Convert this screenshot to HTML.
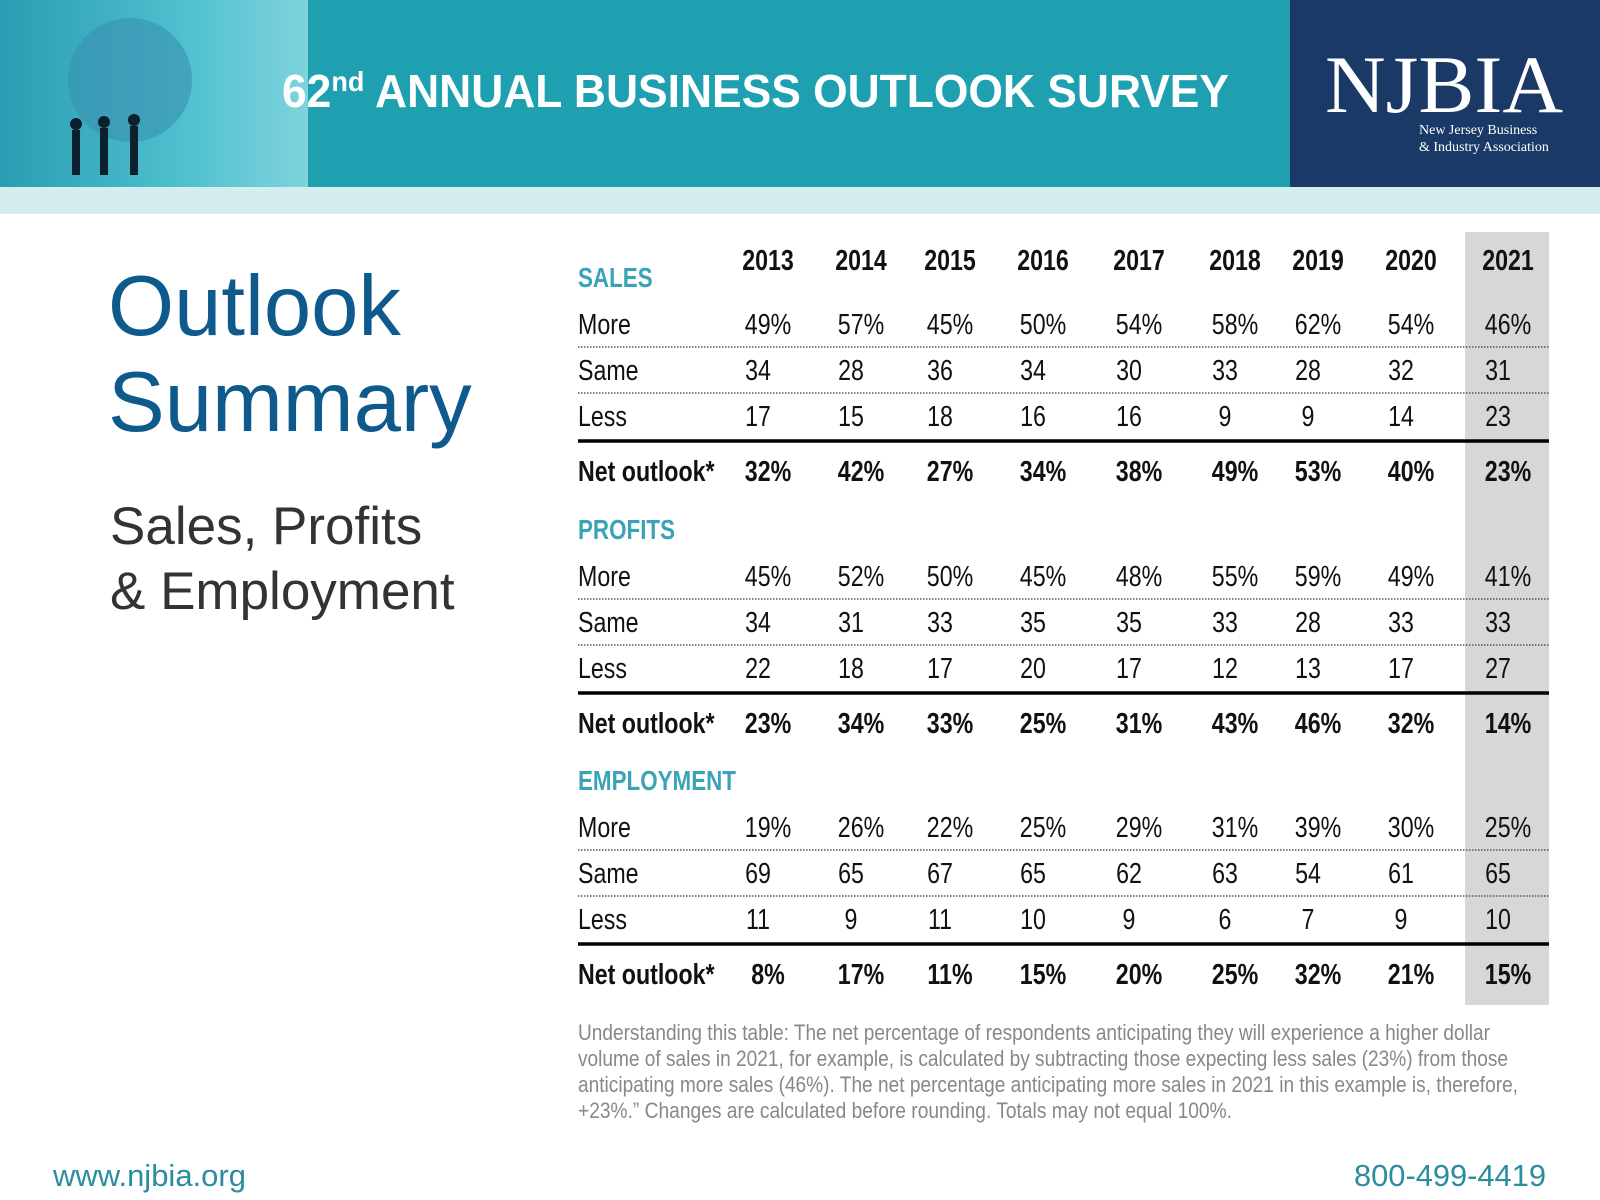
<!DOCTYPE html>
<html><head><meta charset="utf-8"><style>
html,body{margin:0;padding:0;background:#fff}
svg{display:block}
</style></head><body>
<svg id="s" width="1600" height="1200" viewBox="0 0 1600 1200" xmlns="http://www.w3.org/2000/svg" font-family="Liberation Sans, sans-serif">
<defs>
<linearGradient id="lg" x1="0" y1="0" x2="1" y2="0"><stop offset="0" stop-color="#2a9db2"/><stop offset="0.6" stop-color="#4fc0cf"/><stop offset="1" stop-color="#7fd3dd"/></linearGradient>
</defs>
<rect x="0" y="0" width="1290" height="187" fill="#1fa0b1"/>
<rect x="0" y="0" width="308" height="187" fill="url(#lg)"/>
<circle cx="130" cy="80" r="62" fill="#3a8fb0" opacity="0.6"/>
<g fill="#0d2030"><rect x="72" y="130" width="8" height="45"/><rect x="100" y="128" width="8" height="47"/><rect x="130" y="126" width="8" height="49"/><circle cx="76" cy="124" r="6"/><circle cx="104" cy="122" r="6"/><circle cx="134" cy="120" r="6"/></g>
<rect x="0" y="187" width="1600" height="27" fill="#d4eeee"/>
<rect x="1290" y="0" width="310" height="187" fill="#1b3967"/>
<text x="282" y="107" font-size="46" font-weight="bold" fill="#fff" textLength="947" lengthAdjust="spacingAndGlyphs">62<tspan font-size="28" dy="-16">nd</tspan><tspan dy="16"> ANNUAL BUSINESS OUTLOOK SURVEY</tspan></text>
<text x="1325" y="112" font-family="Liberation Serif, serif" font-size="82" fill="#fff" textLength="238" lengthAdjust="spacingAndGlyphs">NJBIA</text>
<text x="1419" y="134" font-family="Liberation Serif, serif" font-size="14" fill="#fff">New Jersey Business</text>
<text x="1419" y="151" font-family="Liberation Serif, serif" font-size="14" fill="#fff">&amp; Industry Association</text>

<text x="108" y="335" font-size="85" fill="#0e5a8c">Outlook</text>
<text x="108" y="431" font-size="85" fill="#0e5a8c">Summary</text>
<text x="110" y="544" font-size="53" fill="#333">Sales, Profits</text>
<text x="110" y="609" font-size="53" fill="#333">&amp; Employment</text>

<rect x="1465" y="232" width="84" height="773" fill="#d6d7d8"/>
<g id="tbl"></g>

<g fill="#888" font-size="22">
<text x="578" y="1040" textLength="912" lengthAdjust="spacingAndGlyphs">Understanding this table: The net percentage of respondents anticipating they will experience a higher dollar</text>
<text x="578" y="1066" textLength="930" lengthAdjust="spacingAndGlyphs">volume of sales in 2021, for example, is calculated by subtracting those expecting less sales (23%) from those</text>
<text x="578" y="1092" textLength="940" lengthAdjust="spacingAndGlyphs">anticipating more sales (46%). The net percentage anticipating more sales in 2021 in this example is, therefore,</text>
<text x="578" y="1118" textLength="654" lengthAdjust="spacingAndGlyphs">+23%.” Changes are calculated before rounding. Totals may not equal 100%.</text>
</g>
<text x="53" y="1186" font-size="31" fill="#2a8e9f">www.njbia.org</text>
<text x="1546" y="1186" font-size="31" fill="#2a8e9f" text-anchor="end" textLength="192" lengthAdjust="spacingAndGlyphs">800-499-4419</text>
</svg>
<script>
const years=["2013","2014","2015","2016","2017","2018","2019","2020","2021"];
const sections=["SALES","PROFITS","EMPLOYMENT"];
const rowLabels=["More","Same","Less","Net outlook*"];
const salesMore=[49,57,45,50,54,58,62,54,46];
const salesSame=[34,28,36,34,30,33,28,32,31];
const salesLess=[17,15,18,16,16,9,9,14,23];
const salesNet=[32,42,27,34,38,49,53,40,23];
const profitsMore=[45,52,50,45,48,55,59,49,41];
const profitsSame=[34,31,33,35,35,33,28,33,33];
const profitsLess=[22,18,17,20,17,12,13,17,27];
const profitsNet=[23,34,33,25,31,43,46,32,14];
const empMore=[19,26,22,25,29,31,39,30,25];
const empSame=[69,65,67,65,62,63,54,61,65];
const empLess=[11,9,11,10,9,6,7,9,10];
const empNet=[8,17,11,15,20,25,32,21,15];
const data=[[salesMore,salesSame,salesLess,salesNet],[profitsMore,profitsSame,profitsLess,profitsNet],[empMore,empSame,empLess,empNet]];

const NS="http://www.w3.org/2000/svg";
const g=document.getElementById('tbl');
const colX=[768,861,950,1043,1139,1235,1318,1411,1508];
const SX=0.8;
function txt(x,y,s,opt){
  const t=document.createElementNS(NS,'text');
  t.setAttribute('transform','translate('+x+','+y+') scale('+SX+',1)');
  t.setAttribute('font-size',opt.size||29);
  if(opt.bold)t.setAttribute('font-weight','bold');
  t.setAttribute('fill',opt.fill||'#111');
  t.setAttribute('text-anchor',opt.anchor||'start');
  t.textContent=s;
  g.appendChild(t);return t;
}
function line(y,w,dash){
  const l=document.createElementNS(NS,'line');
  l.setAttribute('x1',578);l.setAttribute('x2',1549);l.setAttribute('y1',y);l.setAttribute('y2',y);
  l.setAttribute('stroke',dash?'#555':'#000');l.setAttribute('stroke-width',w);
  if(dash)l.setAttribute('stroke-dasharray','1.5,1.5');
  g.appendChild(l);return l;
}
years.forEach((yr,i)=>{
  const t=txt(colX[i],270,yr,{bold:true,anchor:'middle'});
  
  
});
const secTop=[277,529,780];
sections.forEach((sec,si)=>{
  const base=secTop[si];
  const h=txt(578,base+10,sec,{bold:true,fill:'#3aa3b8',size:28});
  
  
  const rowY=[base+57,base+103,base+149,base+204];
  rowLabels.forEach((lab,ri)=>{
    const net=ri===3;
    const l=txt(578,rowY[ri],lab,{bold:net});
    
    
    data[si][ri].forEach((v,ci)=>{
      const pct=(ri===0||ri===3);
      const s=pct?v+'%':String(v);
      const c=txt(colX[ci]+(pct?0:-10),rowY[ri],s,{bold:net,anchor:'middle'});
      
      
    });
  });
  const d1=line(base+70,1.5,true);
  
  
  const d2=line(base+116,1.5,true);
  
  
  const d3=line(base+164,3.5,false);
  
  
});
</script>
</body></html>
